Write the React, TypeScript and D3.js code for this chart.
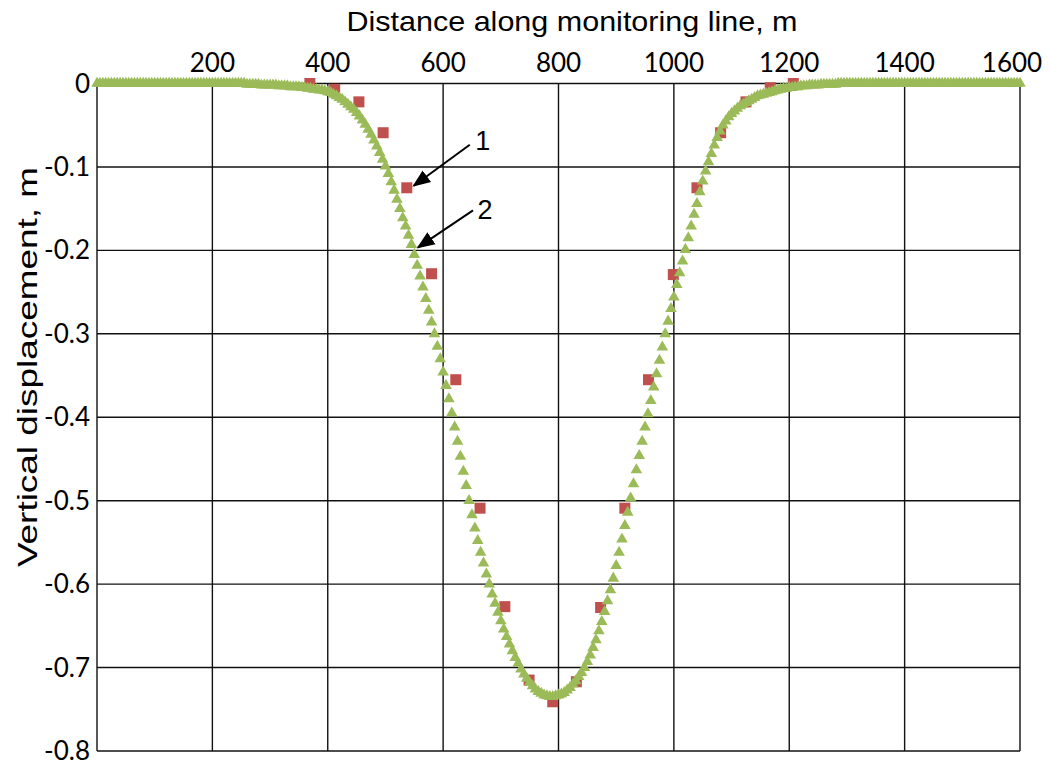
import React from "react"
import * as d3 from "d3"

// measured points (series 1), distance in m and vertical displacement in m
const measDist = [369, 412, 454, 496, 537, 580, 622, 664, 707, 749, 790, 831, 873, 915, 956, 999, 1040, 1081, 1125, 1167, 1207]
const measDisp = [0, -0.007, -0.022, -0.059, -0.125, -0.228, -0.355, -0.509, -0.627, -0.715, -0.741, -0.717, -0.628, -0.509, -0.355, -0.229, -0.125, -0.059, -0.022, -0.005, 0]

// modelled profile (series 2), one value every 5 m from 0 to 1600
const modelStep = 5
const modelDisp = [
  0, 0, 0, 0, 0, 0, 0, 0, 0, 0, // 0
  0, 0, 0, 0, 0, 0, 0, 0, 0, 0, // 50
  0, 0, 0, 0, 0, 0, 0, 0, 0, 0, // 100
  0, 0, 0, 0, 0, 0, 0, 0, 0, 0, // 150
  0, 0, 0, 0, 0, 0, 0, 0, 0, 0, // 200
  0, 0, -0.001, -0.001, -0.001, -0.001, -0.001, -0.002, -0.002, -0.002, // 250
  -0.002, -0.002, -0.002, -0.003, -0.003, -0.003, -0.003, -0.004, -0.004, -0.004, // 300
  -0.004, -0.005, -0.005, -0.006, -0.006, -0.007, -0.007, -0.008, -0.008, -0.009, // 350
  -0.010, -0.011, -0.013, -0.015, -0.017, -0.019, -0.022, -0.025, -0.028, -0.031, // 400
  -0.035, -0.039, -0.044, -0.049, -0.055, -0.061, -0.068, -0.075, -0.083, -0.091, // 450
  -0.099, -0.108, -0.118, -0.128, -0.139, -0.150, -0.161, -0.171, -0.182, -0.193, // 500
  -0.205, -0.218, -0.231, -0.244, -0.258, -0.272, -0.286, -0.300, -0.315, -0.330, // 550
  -0.346, -0.362, -0.378, -0.395, -0.412, -0.429, -0.447, -0.465, -0.482, -0.500, // 600
  -0.517, -0.533, -0.548, -0.562, -0.575, -0.588, -0.600, -0.612, -0.623, -0.634, // 650
  -0.644, -0.654, -0.663, -0.672, -0.680, -0.688, -0.695, -0.702, -0.708, -0.713, // 700
  -0.718, -0.722, -0.726, -0.729, -0.731, -0.733, -0.734, -0.735, -0.735, -0.734, // 750
  -0.733, -0.732, -0.730, -0.727, -0.724, -0.720, -0.716, -0.711, -0.706, -0.700, // 800
  -0.693, -0.685, -0.676, -0.667, -0.656, -0.645, -0.633, -0.620, -0.607, -0.593, // 850
  -0.578, -0.562, -0.546, -0.530, -0.514, -0.497, -0.480, -0.463, -0.446, -0.429, // 900
  -0.412, -0.396, -0.380, -0.364, -0.348, -0.332, -0.316, -0.300, -0.285, -0.270, // 950
  -0.256, -0.241, -0.227, -0.213, -0.199, -0.185, -0.171, -0.157, -0.144, -0.130, // 1000
  -0.117, -0.105, -0.094, -0.084, -0.074, -0.065, -0.057, -0.050, -0.045, -0.040, // 1050
  -0.036, -0.033, -0.030, -0.027, -0.025, -0.023, -0.021, -0.019, -0.017, -0.015, // 1100
  -0.014, -0.013, -0.012, -0.011, -0.010, -0.009, -0.008, -0.007, -0.006, -0.006, // 1150
  -0.005, -0.005, -0.004, -0.004, -0.003, -0.003, -0.003, -0.002, -0.002, -0.002, // 1200
  -0.002, -0.001, -0.001, -0.001, -0.001, -0.001, -0.001, 0, 0, 0, // 1250
  0, 0, 0, 0, 0, 0, 0, 0, 0, 0, // 1300
  0, 0, 0, 0, 0, 0, 0, 0, 0, 0, // 1350
  0, 0, 0, 0, 0, 0, 0, 0, 0, 0, // 1400
  0, 0, 0, 0, 0, 0, 0, 0, 0, 0, // 1450
  0, 0, 0, 0, 0, 0, 0, 0, 0, 0, // 1500
  0, 0, 0, 0, 0, 0, 0, 0, 0, 0, // 1550
  0, // 1600
]

const xTicks = [200, 400, 600, 800, 1000, 1200, 1400, 1600]
const yTicks = [0, -0.1, -0.2, -0.3, -0.4, -0.5, -0.6, -0.7, -0.8]
const xGrid = [0, 200, 400, 600, 800, 1000, 1200, 1400, 1600]

// curve labels: which point each arrow points at
const labelText = ["1", "2"]
const labelDist = [537, 553]
const labelDisp = [-0.125, -0.2]

const GREEN = "#9bbb59"
const RED = "#c0504d"
const tickFont = "Lato, 'Open Sans', sans-serif"
const titleFont = "'Liberation Sans', Arial, sans-serif"

// offsets of label text and arrow start from the pointed-at mark
const labelLayout = [
  { tx: 76, ty: -38, ax: 63, ay: -43, px: 7, py: -2 },
  { tx: 69, ty: -31, ax: 57, ay: -40, px: 2, py: -3 },
]

export default function App() {
  const width = 1050
  const height = 765
  const x = d3.scaleLinear().domain([0, 1600]).range([97, 1020])
  const y = d3.scaleLinear().domain([-0.8, 0]).range([751, 83.5])

  const tri = d3.symbol().type(d3.symbolTriangle).size(58)()
  const sq = d3.symbol().type(d3.symbolSquare).size(121)()

  const model = modelDisp.map((v, i) => ({ dist: i * modelStep, disp: v }))
  const meas = measDist.map((d, i) => ({ dist: d, disp: measDisp[i] }))

  return (
    <svg
      width={width}
      height={height}
      style={{ position: "absolute", left: 0, top: 0, background: "#fff" }}
    >
      <defs>
        <marker id="arr" viewBox="0 0 10 10" refX="9" refY="5" markerWidth="9" markerHeight="9" orient="auto">
          <path d="M0,1 L10,5 L0,9 z" fill="#000" />
        </marker>
      </defs>
      <rect width={width} height={height} fill="#fff" />

      {/* grid */}
      <g stroke="#111" strokeWidth={1.4}>
        {yTicks.map(t => (
          <line key={"h" + t} x1={x(0)} x2={x(1600)} y1={y(t)} y2={y(t)} />
        ))}
        {xGrid.map(t => (
          <line key={"v" + t} x1={x(t)} x2={x(t)} y1={y(0)} y2={y(-0.8)} />
        ))}
      </g>

      {/* tick labels */}
      <g fontFamily={tickFont} fontSize={26} fill="#000">
        {xTicks.map(t => (
          <text key={t} x={x(t) + (t === 1600 ? -8 : 0)} y={72} textAnchor="middle">
            {t}
          </text>
        ))}
        {yTicks.map(t => (
          <text key={t} x={90} y={y(t) + 9} textAnchor="end">
            {t === 0 ? "0" : t.toFixed(1)}
          </text>
        ))}
      </g>

      {/* titles */}
      <text
        x={572}
        y={31}
        textAnchor="middle"
        fontFamily={titleFont}
        fontSize={28}
        textLength={451}
        lengthAdjust="spacingAndGlyphs"
        fill="#000"
      >
        Distance along monitoring line, m
      </text>
      <text
        transform={`translate(37,367) rotate(-90)`}
        textAnchor="middle"
        fontFamily={titleFont}
        fontSize={28}
        textLength={400}
        lengthAdjust="spacingAndGlyphs"
        fill="#000"
      >
        Vertical displacement, m
      </text>

      {/* series 1: measured */}
      <g fill={RED}>
        {meas.map((d, i) => (
          <path key={i} d={sq} transform={`translate(${x(d.dist)},${y(d.disp)})`} />
        ))}
      </g>

      {/* series 2: model */}
      <g fill={GREEN}>
        {model.map((d, i) => (
          <path key={i} d={tri} transform={`translate(${x(d.dist)},${y(d.disp)})`} />
        ))}
      </g>

      {/* labels with arrows */}
      {labelText.map((t, i) => {
        const px = x(labelDist[i])
        const py = y(labelDisp[i])
        const o = labelLayout[i]
        return (
          <g key={t}>
            <line
              x1={px + o.ax}
              y1={py + o.ay}
              x2={px + o.px}
              y2={py + o.py}
              stroke="#000"
              strokeWidth={2}
              markerEnd="url(#arr)"
            />
            <text x={px + o.tx} y={py + o.ty} textAnchor="middle" fontFamily={titleFont} fontSize={27} fill="#000">
              {t}
            </text>
          </g>
        )
      })}
    </svg>
  )
}
